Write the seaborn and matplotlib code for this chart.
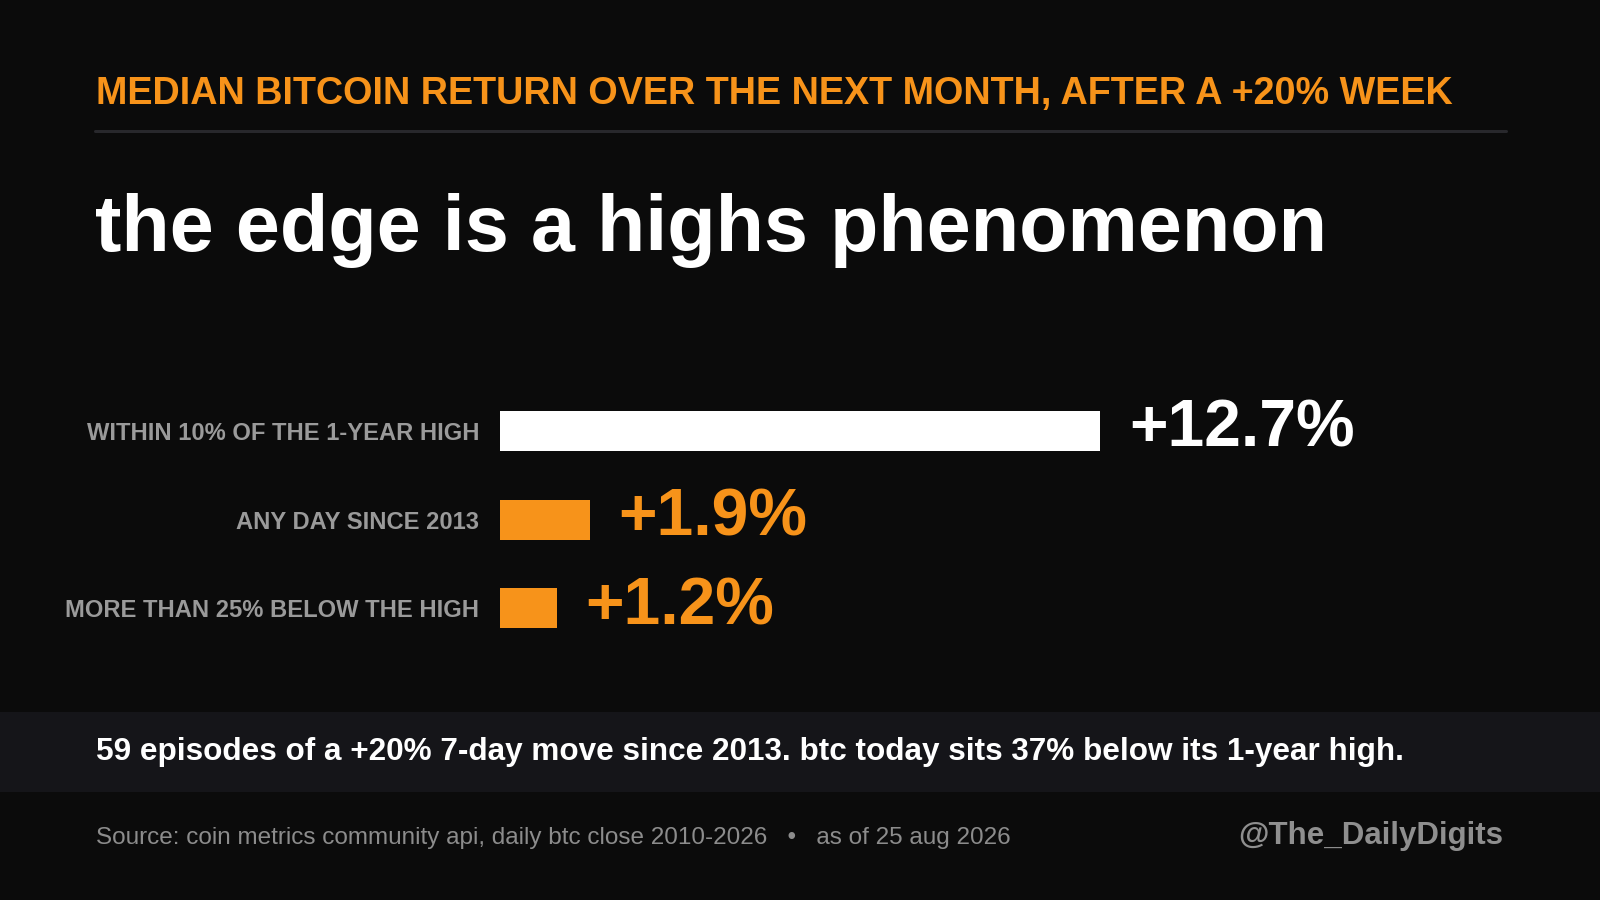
import matplotlib
matplotlib.use("Agg")
import matplotlib.pyplot as plt
import seaborn as sns
import pandas as pd
from matplotlib.patches import Rectangle
from matplotlib.lines import Line2D

# ---- data ----
categories = ["WITHIN 10% OF THE 1-YEAR HIGH", "ANY DAY SINCE 2013", "MORE THAN 25% BELOW THE HIGH"]
values = [12.7, 1.9, 1.2]
value_labels = ["+12.7%", "+1.9%", "+1.2%"]
kicker = "MEDIAN BITCOIN RETURN OVER THE NEXT MONTH, AFTER A +20% WEEK"
headline = "the edge is a highs phenomenon"
note = "59 episodes of a +20% 7-day move since 2013. btc today sits 37% below its 1-year high."
source = "Source: coin metrics community api, daily btc close 2010-2026   \u2022   as of 25 aug 2026"
handle = "@The_DailyDigits"

# ---- style ----
BG = "#0b0b0b"
ORANGE = "#f7931a"
WHITE = "#ffffff"
GREY = "#9a9a9a"
bar_colors = [WHITE, ORANGE, ORANGE]
value_colors = [WHITE, ORANGE, ORANGE]

sns.set_theme(style="white")
plt.rcParams["font.family"] = ["Liberation Sans", "DejaVu Sans"]

W, H = 1600, 900
fig = plt.figure(figsize=(16, 9), dpi=100, facecolor=BG)

def fx(px):
    return px / W

def fy(py):
    return 1 - py / H

# bar axes: 0 at x=500px, 47.24 px per unit
ax_left, ax_right = 500, 1500
row_gap = 88.6
c0 = 431.0
ax_top = c0 - row_gap / 2
ax_bottom = ax_top + 3 * row_gap
ax = fig.add_axes([fx(ax_left), fy(ax_bottom), fx(ax_right - ax_left), (ax_bottom - ax_top) / H])
ax.set_facecolor(BG)

df = pd.DataFrame({"category": categories, "value": values})
sns.barplot(data=df, x="value", y="category", hue="category", palette=bar_colors,
            orient="h", width=0.45, legend=False, ax=ax, saturation=1, linewidth=0)

ax.set_xlim(0, (ax_right - ax_left) / 47.24)
ax.set_ylim(2.5, -0.5)
ax.set_xlabel("")
ax.set_ylabel("")
ax.set_xticks([])
for s in ax.spines.values():
    s.set_visible(False)
ax.tick_params(axis="y", length=0, pad=15)
for lab in ax.get_yticklabels():
    lab.set_color(GREY)
    lab.set_fontsize(17.1)
    lab.set_fontweight("bold")

for i, (v, lab) in enumerate(zip(values, value_labels)):
    ax.annotate(lab, xy=(v, i), xytext=(20.8, -11.5), textcoords="offset points",
                ha="left", va="baseline", fontsize=47.5, fontweight="bold",
                color=value_colors[i])

# ---- header ----
fig.text(fx(96), fy(104), kicker, fontsize=27.2, fontweight="bold", color=ORANGE,
         ha="left", va="baseline")
fig.add_artist(Line2D([fx(95), fx(1506)], [fy(131.3), fy(131.3)], color="#28282c",
                      lw=2.2, transform=fig.transFigure))
fig.text(fx(95), fy(251.5), headline, fontsize=57, fontweight="bold", color=WHITE,
         ha="left", va="baseline")

# ---- footer band ----
fig.add_artist(Rectangle((0, fy(792)), 1, (792 - 712) / H, transform=fig.transFigure,
                         facecolor="#151519", edgecolor="none", zorder=0))
fig.text(fx(96), fy(760), note, fontsize=22.7, fontweight="bold", color=WHITE,
         ha="left", va="baseline")
fig.text(fx(96), fy(844), source, fontsize=17.5, color="#8c8c8c",
         ha="left", va="baseline")
fig.text(fx(1503), fy(844), handle, fontsize=22.5, fontweight="bold", color="#8f8f8f",
         ha="right", va="baseline")

fig.savefig("out.png", dpi=100, facecolor=BG)
